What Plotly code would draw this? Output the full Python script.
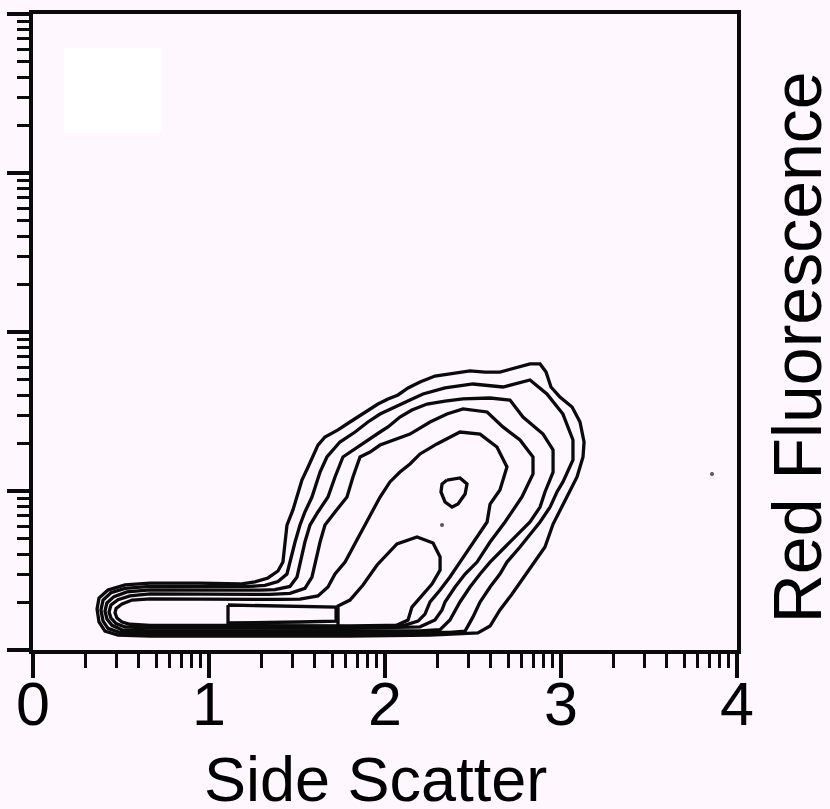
import numpy as np
import plotly.graph_objects as go

# Axes are in log decades (0-4) of side scatter and red fluorescence
x_ticks = [0, 1, 2, 3, 4]
x_tick_labels = ["0", "1", "2", "3", "4"]
y_ticks = [0, 1, 2, 3, 4]

# Density contour outlines (decades), outermost first
c1_x = [1.176, 0.949, 0.665, 0.523, 0.426, 0.375, 0.364, 0.375, 0.409, 0.483, 0.665, 1.233, 1.801,
        2.256, 2.528, 2.597, 2.653, 2.722, 2.778, 2.852, 2.909, 2.955, 3.034, 3.091, 3.125, 3.131,
        3.108, 3.063, 2.994, 2.943, 2.915, 2.881, 2.824, 2.739, 2.653, 2.568, 2.483, 2.369, 2.284,
        2.199, 2.131, 2.074, 2.017, 1.960, 1.886, 1.801, 1.733, 1.659, 1.619, 1.591, 1.563, 1.528,
        1.500, 1.477, 1.443, 1.432, 1.420, 1.392, 1.335, 1.261, 1.176]
c1_y = [0.415, 0.421, 0.421, 0.409, 0.377, 0.327, 0.258, 0.176, 0.119, 0.094, 0.088, 0.088, 0.088,
        0.094, 0.107, 0.151, 0.252, 0.352, 0.440, 0.553, 0.648, 0.792, 0.962, 1.088, 1.214, 1.308,
        1.434, 1.528, 1.591, 1.654, 1.748, 1.799, 1.799, 1.774, 1.748, 1.748, 1.755, 1.736, 1.723,
        1.686, 1.648, 1.604, 1.579, 1.547, 1.497, 1.434, 1.384, 1.340, 1.289, 1.214, 1.151, 1.069,
        0.962, 0.881, 0.786, 0.679, 0.553, 0.497, 0.453, 0.428, 0.415]

c2_x = [1.233, 0.949, 0.665, 0.523, 0.443, 0.398, 0.386, 0.398, 0.426, 0.494, 0.665, 1.233, 1.801,
        2.256, 2.369, 2.455, 2.500, 2.540, 2.597, 2.653, 2.693, 2.767, 2.881, 2.938, 2.977, 3.011,
        3.068, 3.068, 3.011, 2.920, 2.824, 2.670, 2.500, 2.341, 2.216, 2.142, 2.057, 1.972, 1.903,
        1.830, 1.744, 1.670, 1.631, 1.585, 1.545, 1.517, 1.489, 1.460, 1.443, 1.392, 1.318, 1.233]
c2_y = [0.400, 0.400, 0.400, 0.388, 0.360, 0.314, 0.252, 0.182, 0.136, 0.110, 0.104, 0.104, 0.104,
        0.110, 0.110, 0.119, 0.208, 0.302, 0.396, 0.478, 0.553, 0.648, 0.805, 0.899, 0.994, 1.057,
        1.195, 1.321, 1.484, 1.610, 1.698, 1.654, 1.673, 1.648, 1.610, 1.572, 1.528, 1.484, 1.434,
        1.371, 1.308, 1.214, 1.119, 0.962, 0.868, 0.786, 0.679, 0.553, 0.478, 0.430, 0.406, 0.400]

c3_x = [1.290, 0.949, 0.665, 0.534, 0.460, 0.420, 0.409, 0.420, 0.449, 0.506, 0.665, 1.233, 1.801,
        2.199, 2.313, 2.369, 2.426, 2.483, 2.540, 2.597, 2.682, 2.767, 2.824, 2.881, 2.909, 2.955,
        2.955, 2.898, 2.784, 2.710, 2.597, 2.443, 2.341, 2.239, 2.153, 2.085, 2.017, 1.972, 1.886,
        1.813, 1.761, 1.716, 1.676, 1.619, 1.574, 1.545, 1.517, 1.500, 1.460, 1.375, 1.290]
c3_y = [0.376, 0.378, 0.378, 0.365, 0.336, 0.296, 0.245, 0.195, 0.155, 0.127, 0.120, 0.120, 0.120,
        0.120, 0.128, 0.189, 0.302, 0.396, 0.478, 0.553, 0.648, 0.742, 0.805, 0.899, 0.994, 1.119,
        1.258, 1.358, 1.465, 1.572, 1.585, 1.579, 1.566, 1.547, 1.509, 1.465, 1.403, 1.371, 1.308,
        1.258, 1.214, 1.088, 0.962, 0.868, 0.786, 0.679, 0.553, 0.459, 0.400, 0.380, 0.376]

c4_x = [1.347, 0.949, 0.665, 0.551, 0.483, 0.443, 0.432, 0.443, 0.472, 0.523, 0.665, 1.233, 1.801,
        2.199, 2.284, 2.324, 2.341, 2.398, 2.455, 2.523, 2.597, 2.682, 2.739, 2.778, 2.841, 2.841,
        2.767, 2.670, 2.580, 2.443, 2.352, 2.256, 2.142, 2.057, 1.972, 1.915, 1.858, 1.818, 1.784,
        1.716, 1.659, 1.631, 1.602, 1.585, 1.545, 1.460, 1.347]
c4_y = [0.350, 0.353, 0.353, 0.340, 0.316, 0.283, 0.239, 0.201, 0.166, 0.145, 0.138, 0.138, 0.136,
        0.146, 0.189, 0.252, 0.302, 0.396, 0.478, 0.553, 0.679, 0.805, 0.899, 0.962, 1.107, 1.214,
        1.321, 1.403, 1.497, 1.516, 1.484, 1.434, 1.358, 1.321, 1.289, 1.245, 1.214, 1.088, 0.962,
        0.868, 0.786, 0.679, 0.553, 0.459, 0.388, 0.356, 0.350]

c5_x = [1.403, 0.949, 0.665, 0.563, 0.506, 0.472, 0.466, 0.477, 0.506, 0.551, 0.665, 1.233, 1.801,
        2.114, 2.188, 2.227, 2.256, 2.313, 2.369, 2.426, 2.483, 2.540, 2.580, 2.597, 2.653, 2.693,
        2.636, 2.540, 2.426, 2.295, 2.199, 2.142, 2.085, 2.028, 1.972, 1.926, 1.886, 1.830, 1.773,
        1.716, 1.676, 1.619, 1.517, 1.403]
c5_y = [0.318, 0.322, 0.322, 0.314, 0.290, 0.262, 0.233, 0.201, 0.176, 0.162, 0.154, 0.154, 0.151,
        0.157, 0.182, 0.226, 0.302, 0.377, 0.459, 0.553, 0.648, 0.742, 0.805, 0.918, 1.006, 1.151,
        1.277, 1.358, 1.371, 1.296, 1.233, 1.170, 1.119, 1.057, 0.962, 0.868, 0.786, 0.679, 0.553,
        0.478, 0.396, 0.340, 0.320, 0.318]

# Inner peaks: low-scatter tail core, lower bump, and the small high-density island
tail_x = [1.108, 1.517, 1.722, 1.722, 1.517, 1.108, 1.108]
tail_y = [0.283, 0.277, 0.270, 0.182, 0.176, 0.170, 0.283]

bump_x = [1.733, 1.733, 1.801, 1.875, 1.955, 2.068, 2.182, 2.273, 2.313, 2.313, 2.267, 2.199,
          2.153, 2.131, 2.057, 1.733]
bump_y = [0.138, 0.277, 0.314, 0.409, 0.535, 0.667, 0.711, 0.673, 0.585, 0.503, 0.415, 0.333,
          0.270, 0.189, 0.151, 0.138]

peak_x = [2.352, 2.426, 2.466, 2.455, 2.415, 2.381, 2.341, 2.318, 2.324, 2.352]
peak_y = [1.069, 1.082, 1.044, 0.981, 0.918, 0.899, 0.931, 0.994, 1.044, 1.069]

# Isolated events
dot_x = [2.324, 3.858]
dot_y = [0.786, 1.107]

contours = [(c1_x, c1_y), (c2_x, c2_y), (c3_x, c3_y), (c4_x, c4_y), (c5_x, c5_y),
            (tail_x, tail_y), (bump_x, bump_y), (peak_x, peak_y)]

BG = "#FEF7FE"
INK = "#0a0a0a"
FONT = "Liberation Sans, Arial, Helvetica, sans-serif"

fig = go.Figure()
for cx, cy in contours:
    fig.add_trace(go.Scatter(x=cx, y=cy, mode="lines",
                             line=dict(color=INK, width=3.3),
                             hoverinfo="skip", showlegend=False))
fig.add_trace(go.Scatter(x=dot_x, y=dot_y, mode="markers",
                         marker=dict(color="#555555", size=4, line=dict(width=0)),
                         hoverinfo="skip", showlegend=False))

# Log-decade minor tick positions
minor_vals = [d + np.log10(m) for d in range(4) for m in range(2, 10)]

axis_common = dict(
    range=[0, 4], autorange=False, showgrid=False, zeroline=False,
    showline=True, linecolor=INK, linewidth=4, mirror=True,
    ticks="outside", tickcolor=INK, tickwidth=3.5,
)

fig.update_xaxes(
    **axis_common,
    tickvals=x_ticks, ticktext=x_tick_labels, ticklen=24,
    ticklabelstandoff=-26,
    tickfont=dict(family=FONT, size=61, color="#000000"),
    minor=dict(tickvals=minor_vals, ticks="outside", ticklen=14, tickwidth=3, tickcolor=INK),
)
fig.update_yaxes(
    **axis_common,
    tickvals=y_ticks, ticklen=22, showticklabels=False,
    minor=dict(tickvals=minor_vals, ticks="outside", ticklen=12, tickwidth=3, tickcolor=INK),
)

# Blank label box in the upper-left corner
fig.add_shape(type="rect", xref="x", yref="y", x0=0.176, x1=0.733, y0=3.252, y1=3.786,
              fillcolor="#FFFFFF", line=dict(width=0), layer="below")

fig.add_annotation(text="Side Scatter", xref="paper", yref="paper", x=0.487, y=-0.203,
                   xanchor="center", yanchor="middle", showarrow=False,
                   font=dict(family=FONT, size=63, color="#000000"))
fig.add_annotation(text="Red Fluorescence", xref="paper", yref="paper", x=1.0852, y=0.476,
                   xanchor="center", yanchor="middle", textangle=-90, showarrow=False,
                   font=dict(family=FONT, size=68, color="#000000"))

fig.update_layout(
    width=830, height=809,
    margin=dict(l=33, r=93, t=10, b=159, pad=0),
    paper_bgcolor=BG, plot_bgcolor=BG,
    showlegend=False,
)

fig.write_html("out.html")
